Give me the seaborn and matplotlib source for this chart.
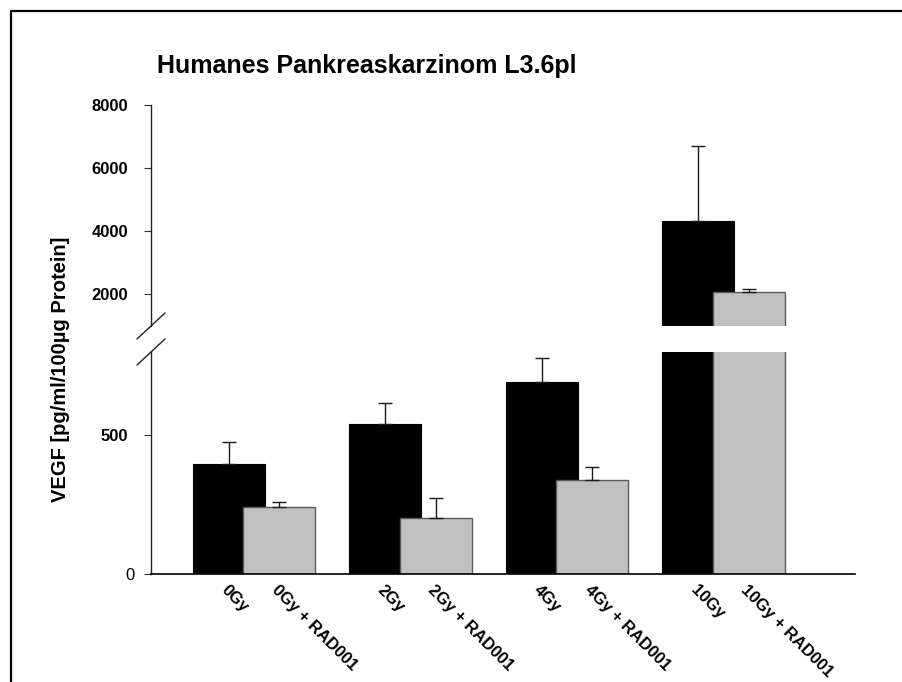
import numpy as np
import matplotlib
matplotlib.use("Agg")
import matplotlib.pyplot as plt
import matplotlib.transforms as mtransforms
from matplotlib.lines import Line2D
import seaborn as sns

# ---- data ----
groups = ["0Gy", "2Gy", "4Gy", "10Gy"]
vegf_mean = [395, 542, 692, 4310]
vegf_err = [79, 76, 86, 2390]
rad_mean = [242, 203, 338, 2065]
rad_err = [17, 72, 46, 95]
rad_suffix = " + RAD001"
upper_ticks = [2000, 4000, 6000, 8000]
lower_ticks = [0, 500]
title = "Humanes Pankreaskarzinom L3.6pl"
ylabel = "VEGF [pg/ml/100µg Protein]"

sns.set_style("white")
plt.rcParams["font.family"] = ["Liberation Sans", "DejaVu Sans"]
plt.rcParams["text.color"] = "black"
plt.rcParams["xtick.color"] = "black"
plt.rcParams["ytick.color"] = "black"
plt.rcParams["axes.labelcolor"] = "black"

W, H = 903, 682
fig = plt.figure(figsize=(W / 100, H / 100), dpi=100)

def px_box(x0, x1, ytop, ybot):
    return [x0 / W, 1 - ybot / H, (x1 - x0) / W, (ybot - ytop) / H]

ax_top = fig.add_axes(px_box(151, 855, 105, 326))
ax_bot = fig.add_axes(px_box(151, 855, 352, 574))

idx = np.arange(len(groups))
off = 0.161
bw = 0.46
xb = idx - off
xg = idx + off

for ax in (ax_top, ax_bot):
    sns.barplot(x=xb, y=vegf_mean, native_scale=True, orient="x", width=bw,
                color="black", edgecolor="black", linewidth=0.8, saturation=1, ax=ax)
    ax.errorbar(xb, vegf_mean, yerr=[np.zeros(len(groups)), vegf_err], fmt="none",
                ecolor="#1a1a1a", elinewidth=1.0, capsize=5.3, capthick=1.0)
    sns.barplot(x=xg, y=rad_mean, native_scale=True, orient="x", width=bw,
                color="#c0c0c0", edgecolor="#5a5a5a", linewidth=1.0, saturation=1, ax=ax)
    ax.errorbar(xg, rad_mean, yerr=[np.zeros(len(groups)), rad_err], fmt="none",
                ecolor="#1a1a1a", elinewidth=1.0, capsize=5.3, capthick=1.0)
    ax.set_xlim(-0.658, 3.84)
    ax.set_xlabel("")
    ax.set_ylabel("")
    for s in ("top", "right"):
        ax.spines[s].set_visible(False)
    ax.spines["left"].set_linewidth(1.0)
    ax.spines["left"].set_color("#222222")
    ax.tick_params(axis="y", direction="out", length=5, width=0.8, color="#333333",
                   pad=11.5, left=True, labelcolor="black")
    ax.set_facecolor("none")

# upper axes
ax_top.set_ylim(1000, 8000)
ax_top.spines["bottom"].set_visible(False)
ax_top.set_yticks(upper_ticks, labels=[str(t) for t in upper_ticks],
                  fontsize=12, fontweight="bold")
ax_top.set_xticks([])

# lower axes
ax_bot.set_ylim(0, 800)
ax_bot.spines["bottom"].set_linewidth(1.2)
ax_bot.spines["bottom"].set_color("black")
ax_bot.set_yticks(lower_ticks, labels=[str(t) for t in lower_ticks],
                  fontsize=12, fontweight="bold")
lab0 = ax_bot.get_yticklabels()[0]
lab0.set_fontweight("normal")
lab0.set_transform(lab0.get_transform() + mtransforms.ScaledTranslation(7 / 100, 0, fig.dpi_scale_trans))

xpos = np.empty(2 * len(groups))
xpos[0::2] = xb
xpos[1::2] = xg
xlabels = []
for g in groups:
    xlabels += [g, g + rad_suffix]
ax_bot.set_xticks(xpos, labels=xlabels, fontsize=12, fontweight="bold",
                  rotation=-45, ha="left", va="top", rotation_mode="anchor")
ax_bot.tick_params(axis="x", length=0, pad=6, labelcolor="black")

# break marks
d_x, d_y = 14 / 704, 13 / 221
kw = dict(color="#222222", lw=1.0, clip_on=False)
ax_top.plot([-d_x, d_x], [-d_y, d_y], transform=ax_top.transAxes, **kw)
ax_bot.plot([-d_x, d_x], [1 - d_y, 1 + d_y], transform=ax_bot.transAxes, **kw)

# title & y label
fig.text(157 / W, 1 - 73 / H, title, fontsize=18, fontweight="bold",
         ha="left", va="baseline", color="black")
fig.text(61 / W, 1 - 369 / H, ylabel, fontsize=14.5, fontweight="bold",
         rotation=90, ha="center", va="center", color="black")

# frame (top and left visible)
fig.add_artist(Line2D([11 / W, 1], [1 - 11 / H, 1 - 11 / H], transform=fig.transFigure,
                      color="black", lw=1.6))
fig.add_artist(Line2D([11 / W, 11 / W], [0, 1 - 11 / H], transform=fig.transFigure,
                      color="black", lw=1.6))

fig.savefig("out.png", dpi=100)
